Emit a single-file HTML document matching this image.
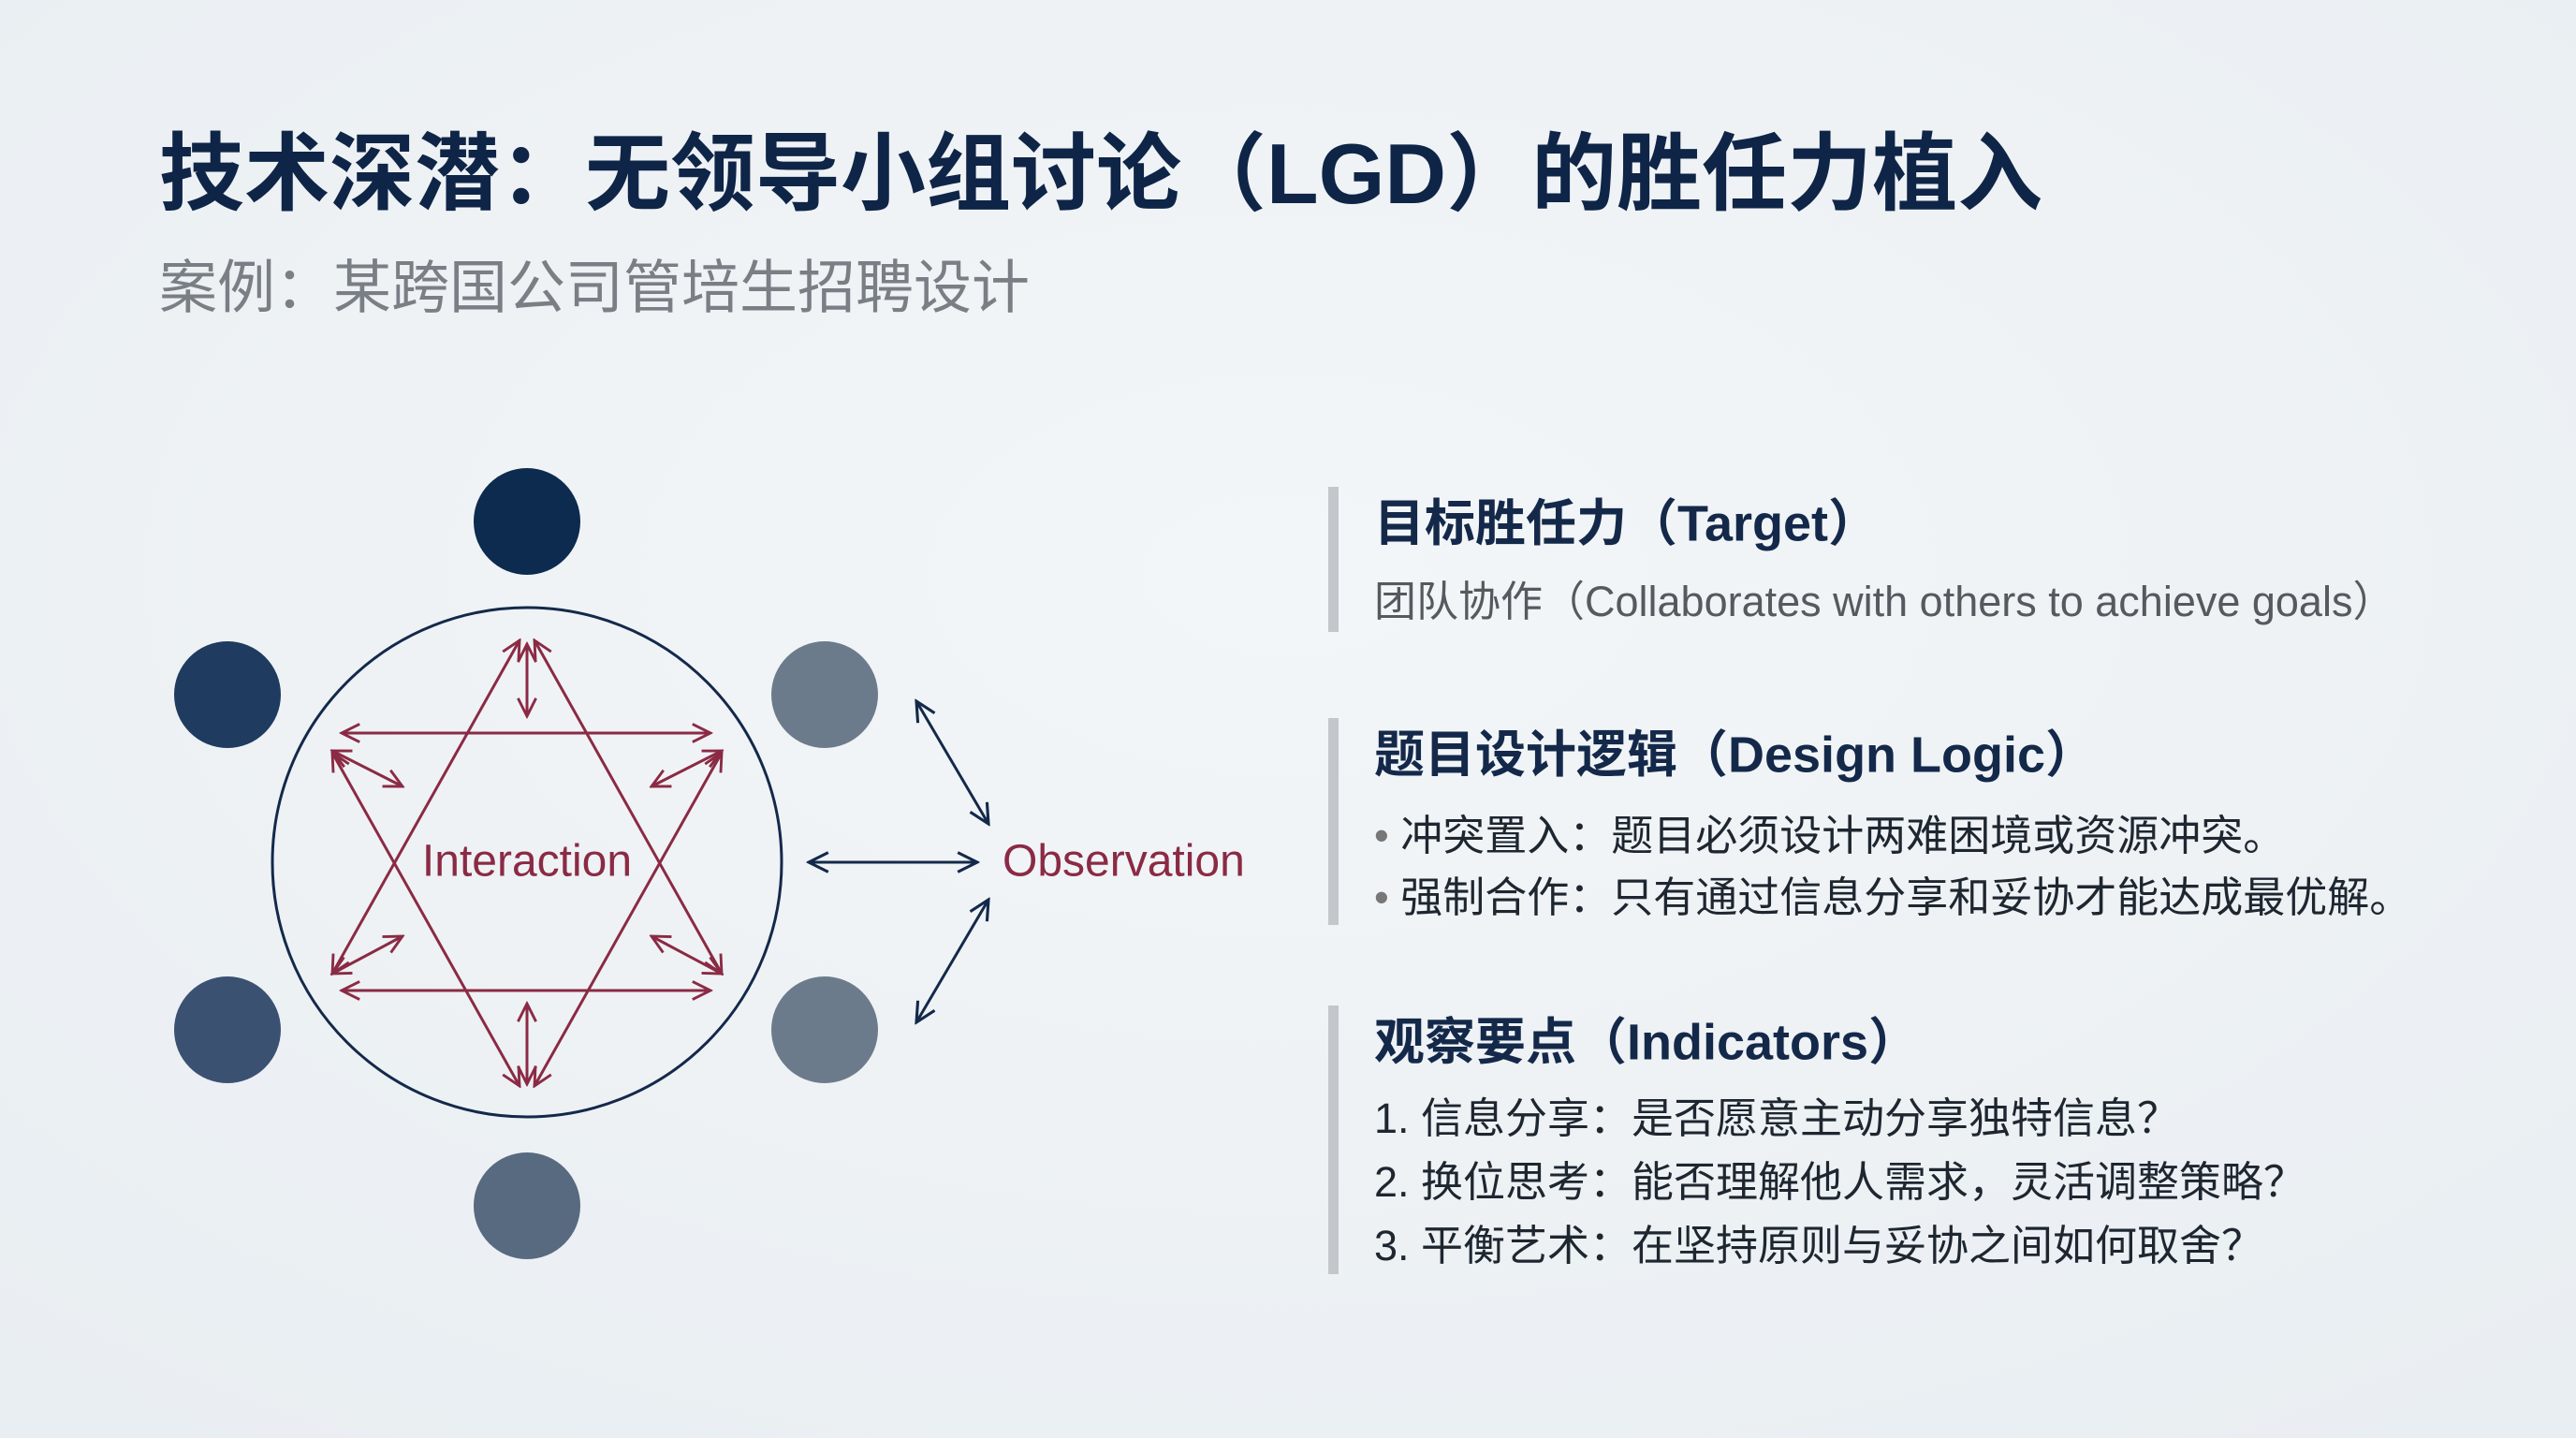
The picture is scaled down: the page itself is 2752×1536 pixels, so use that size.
<!DOCTYPE html>
<html><head><meta charset="utf-8"><style>
html,body{margin:0;padding:0;}
body{width:2752px;height:1536px;background:#eef2f5;overflow:hidden;}
svg{display:block;}
text{font-family:"Liberation Sans","Noto Sans CJK SC",sans-serif;}
</style></head><body>
<svg width="2752" height="1536" viewBox="0 0 2752 1536" xmlns="http://www.w3.org/2000/svg">
<defs>
<radialGradient id="bg" cx="50%" cy="40%" r="75%"><stop offset="0" stop-color="#f3f6f8"/><stop offset="1" stop-color="#e9eef2"/></radialGradient>
<marker id="mr" viewBox="0 0 20 20" refX="18" refY="10" markerWidth="24" markerHeight="24" markerUnits="userSpaceOnUse" orient="auto-start-reverse"><path d="M2,2 L18,10 L2,18" fill="none" stroke="#8b2a44" stroke-width="2.4"/></marker>
<marker id="mn" viewBox="0 0 20 20" refX="18" refY="10" markerWidth="26" markerHeight="26" markerUnits="userSpaceOnUse" orient="auto-start-reverse"><path d="M2,2 L18,10 L2,18" fill="none" stroke="#14294a" stroke-width="2.4"/></marker>
</defs>
<rect width="2752" height="1536" fill="url(#bg)"/>
<text x="170" y="193" font-size="91" font-weight="bold" fill="#0f2547" dominant-baseline="middle">技术深潜：无领导小组讨论（LGD）的胜任力植入</text>
<text x="170" y="312" font-size="62" fill="#7a7f86" dominant-baseline="middle">案例：某跨国公司管培生招聘设计</text>

<circle cx="563" cy="557" r="57" fill="#0d2a4f"/>
<circle cx="243" cy="742" r="57" fill="#1f3b60"/>
<circle cx="881" cy="742" r="57" fill="#6c7b8b"/>
<circle cx="243" cy="1100" r="57" fill="#3a5172"/>
<circle cx="881" cy="1100" r="57" fill="#6c7b8b"/>
<circle cx="563" cy="1288" r="57" fill="#576a80"/>
<circle cx="563" cy="921" r="272" fill="none" stroke="#14294a" stroke-width="3"/>

<g stroke="#8b2a44" stroke-width="3" fill="none" marker-start="url(#mr)" marker-end="url(#mr)">
<line x1="555" y1="684" x2="355" y2="1040"/>
<line x1="571" y1="684" x2="771" y2="1040"/>
<line x1="555" y1="1160" x2="355" y2="804"/>
<line x1="571" y1="1160" x2="771" y2="804"/>
<line x1="365" y1="783" x2="759" y2="783"/>
<line x1="365" y1="1058" x2="759" y2="1058"/>
<line x1="563" y1="688" x2="563" y2="765"/>
<line x1="563" y1="1072" x2="563" y2="1158"/>
<line x1="355" y1="802" x2="430" y2="840"/>
<line x1="771" y1="802" x2="696" y2="840"/>
<line x1="355" y1="1040" x2="430" y2="1000"/>
<line x1="771" y1="1040" x2="696" y2="1000"/>
</g>
<text x="563" y="923" font-size="48" fill="#8b2a44" text-anchor="middle" dominant-baseline="middle">Interaction</text>

<g stroke="#14294a" stroke-width="3" fill="none" marker-start="url(#mn)" marker-end="url(#mn)">
<line x1="864" y1="921" x2="1044" y2="921"/>
<line x1="979" y1="749" x2="1056" y2="880"/>
<line x1="1056" y1="961" x2="979" y2="1092"/>
</g>
<text x="1071" y="923" font-size="48" fill="#8b2a44" dominant-baseline="middle">Observation</text>

<rect x="1419" y="520" width="11" height="155" fill="#c3c7cc"/>
<rect x="1419" y="767" width="11" height="221" fill="#c3c7cc"/>
<rect x="1419" y="1074" width="11" height="287" fill="#c3c7cc"/>
<g dominant-baseline="middle">
<text x="1468" y="563" font-size="54" font-weight="bold" fill="#14294a">目标胜任力（Target）</text>
<text x="1468" y="646" font-size="45" fill="#555a60">团队协作（Collaborates with others to achieve goals）</text>
<text x="1468" y="810" font-size="54" font-weight="bold" fill="#14294a">题目设计逻辑（Design Logic）</text>
<text x="1468" y="896" font-size="45" fill="#1e2630"><tspan fill="#777">•</tspan> 冲突置入：题目必须设计两难困境或资源冲突。</text>
<text x="1468" y="962" font-size="45" fill="#1e2630"><tspan fill="#777">•</tspan> 强制合作：只有通过信息分享和妥协才能达成最优解。</text>
<text x="1468" y="1117" font-size="54" font-weight="bold" fill="#14294a">观察要点（Indicators）</text>
<text x="1468" y="1198" font-size="45" fill="#1e2630">1. 信息分享：是否愿意主动分享独特信息？</text>
<text x="1468" y="1266" font-size="45" fill="#1e2630">2. 换位思考：能否理解他人需求，灵活调整策略？</text>
<text x="1468" y="1334" font-size="45" fill="#1e2630">3. 平衡艺术：在坚持原则与妥协之间如何取舍？</text>
</g>
</svg>
</body></html>
